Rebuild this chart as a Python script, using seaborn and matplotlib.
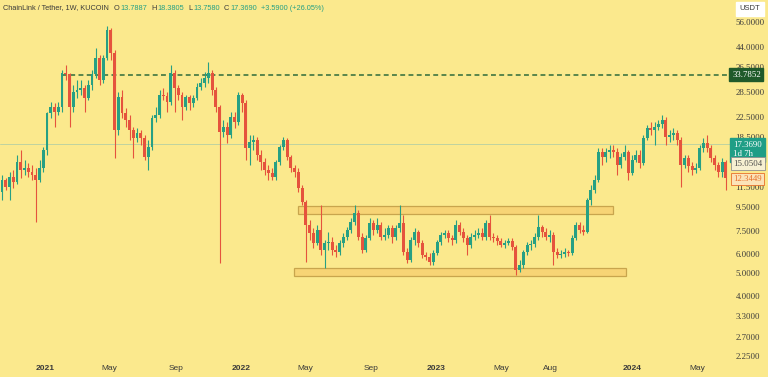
import matplotlib
matplotlib.use("Agg")
import numpy as np
import pandas as pd
import seaborn as sns
import matplotlib.pyplot as plt
import matplotlib.dates as mdates
from matplotlib.patches import Rectangle
from matplotlib.ticker import FixedLocator, NullLocator

# ---------------- data (weekly LINK/USDT candles) ----------------
start_date = "2020-10-12"

opens = [
    10.9, 12.3, 11.5, 12.6, 12.0, 14.6, 13.5, 13.8, 13.2, 12.9,
    12.3, 13.8, 16.4, 23.3, 24.7, 23.6, 24.7, 34.3, 34.0, 24.7,
    28.6, 29.1, 29.7, 27.0, 30.6, 34.0, 39.6, 32.1, 39.6, 51.9,
    41.6, 19.8, 27.2, 23.3, 21.8, 19.8, 18.4, 19.3, 18.4, 15.3,
    16.8, 22.2, 22.9, 27.8, 27.5, 25.9, 34.3, 29.7, 27.8, 24.7,
    27.2, 25.7, 27.0, 30.0, 31.1, 32.7, 34.3, 29.1, 24.7, 19.4,
    20.4, 18.9, 22.5, 21.4, 27.8, 25.7, 16.7, 17.7, 18.0, 15.6,
    14.6, 13.5, 13.1, 12.6, 14.6, 16.8, 18.0, 15.3, 13.8, 13.2,
    11.35, 9.92, 7.95, 7.36, 6.69, 7.58, 6.26, 6.69, 6.75, 6.26,
    6.13, 6.69, 7.09, 7.58, 8.19, 8.91, 7.09, 6.26, 7.02, 8.10,
    7.58, 7.95, 7.09, 7.22, 7.72, 7.09, 7.72, 8.10, 6.13, 5.68,
    6.89, 7.44, 6.69, 5.96, 5.85, 5.57, 6.07, 6.75, 7.22, 7.36,
    7.02, 6.89, 7.95, 7.44, 7.02, 6.56, 7.09, 7.22, 7.36, 7.09,
    8.10, 7.09, 7.02, 6.82, 6.56, 6.69, 6.82, 6.44, 5.16, 5.41,
    6.13, 6.56, 6.62, 7.09, 7.80, 7.44, 7.09, 7.22, 6.13, 5.96,
    6.02, 6.13, 6.07, 7.02, 7.95, 7.58, 7.44, 10.1, 11.1, 12.3,
    16.0, 15.3, 16.0, 16.4, 16.0, 14.2, 15.3, 16.0, 13.1, 14.8,
    15.6, 14.4, 18.4, 20.2, 19.8, 20.4, 21.0, 21.8, 18.5, 18.9,
    19.3, 18.0, 14.2, 15.1, 14.0, 13.5, 13.8, 16.7, 17.5, 16.7,
    15.1, 14.2, 13.2, 14.6,
]

closes = [
    12.3, 11.5, 12.6, 12.0, 14.6, 13.5, 13.8, 13.2, 12.9, 12.3,
    13.8, 16.4, 23.3, 24.7, 23.6, 24.7, 34.3, 34.0, 24.7, 28.6,
    29.1, 29.7, 27.0, 30.6, 34.0, 39.6, 32.1, 39.6, 51.9, 41.6,
    19.8, 27.2, 23.3, 21.8, 19.8, 18.4, 19.3, 18.4, 15.3, 16.8,
    22.2, 22.9, 27.8, 27.5, 25.9, 34.3, 29.7, 27.8, 24.7, 27.2,
    25.7, 27.0, 30.0, 31.1, 32.7, 34.3, 29.1, 24.7, 19.4, 20.4,
    18.9, 22.5, 21.4, 27.8, 25.7, 16.7, 17.7, 18.0, 15.6, 14.6,
    13.5, 13.1, 12.6, 14.6, 16.8, 18.0, 15.3, 13.8, 13.2, 11.35,
    9.92, 7.95, 7.36, 6.69, 7.58, 6.26, 6.69, 6.75, 6.26, 6.13,
    6.69, 7.09, 7.58, 8.19, 8.91, 7.09, 6.26, 7.02, 8.10, 7.58,
    7.95, 7.09, 7.22, 7.72, 7.09, 7.72, 8.10, 6.13, 5.68, 6.89,
    7.44, 6.69, 5.96, 5.85, 5.57, 6.07, 6.75, 7.22, 7.36, 7.02,
    6.89, 7.95, 7.44, 7.02, 6.56, 7.09, 7.22, 7.36, 7.09, 8.10,
    7.09, 7.02, 6.82, 6.56, 6.69, 6.82, 6.44, 5.16, 5.41, 6.13,
    6.56, 6.62, 7.09, 7.80, 7.44, 7.09, 7.22, 6.13, 5.96, 6.02,
    6.13, 6.07, 7.02, 7.95, 7.58, 7.44, 10.1, 11.1, 12.3, 16.0,
    15.3, 16.0, 16.4, 16.0, 14.2, 15.3, 16.0, 13.1, 14.8, 15.6,
    14.4, 18.4, 20.2, 19.8, 20.4, 21.0, 21.8, 18.5, 18.9, 19.3,
    18.0, 14.2, 15.1, 14.0, 13.5, 13.8, 16.7, 17.5, 16.7, 15.1,
    14.2, 13.2, 14.6, 12.5,
]

highs = [
    12.9, 12.5, 13.2, 13.5, 15.6, 16.4, 14.8, 14.4, 14.2, 13.8,
    14.8, 16.8, 23.6, 25.9, 25.7, 25.9, 35.3, 37.0, 34.3, 30.6,
    32.1, 32.1, 30.6, 32.1, 35.3, 43.6, 40.8, 40.8, 53.9, 52.9,
    42.8, 28.6, 29.1, 24.5, 22.9, 20.4, 20.2, 19.8, 18.9, 18.0,
    22.9, 24.7, 29.1, 29.7, 28.6, 37.0, 35.3, 30.6, 28.6, 27.8,
    27.8, 27.8, 31.1, 32.7, 34.6, 38.1, 35.3, 30.0, 25.2, 21.8,
    21.4, 23.6, 23.6, 28.6, 28.3, 26.5, 18.9, 18.9, 18.5, 16.4,
    15.1, 14.2, 13.8, 14.8, 17.1, 18.5, 18.4, 15.6, 14.2, 13.8,
    11.7, 10.1, 8.35, 7.72, 7.95, 9.63, 6.89, 7.44, 7.09, 6.56,
    6.89, 7.36, 7.80, 8.51, 9.63, 9.15, 7.36, 7.22, 8.51, 8.35,
    8.51, 8.19, 7.72, 7.95, 7.95, 7.95, 9.63, 8.75, 6.37, 7.09,
    7.72, 7.58, 6.89, 6.13, 6.07, 6.26, 6.89, 7.44, 7.58, 7.58,
    7.22, 8.35, 8.19, 7.72, 7.22, 7.36, 7.58, 7.72, 7.72, 8.35,
    8.75, 7.36, 7.22, 7.02, 6.89, 7.02, 7.02, 6.56, 5.68, 6.26,
    6.75, 6.89, 7.36, 8.75, 7.95, 7.72, 7.58, 7.44, 6.37, 6.26,
    6.37, 6.26, 7.22, 8.19, 8.19, 7.95, 10.3, 11.7, 12.9, 16.7,
    16.7, 16.7, 17.1, 17.1, 16.7, 15.9, 17.1, 16.4, 15.6, 16.4,
    16.4, 18.9, 20.8, 21.4, 21.4, 21.8, 22.9, 22.5, 19.8, 20.2,
    19.8, 18.5, 15.6, 15.6, 14.6, 14.4, 17.1, 18.4, 18.9, 17.1,
    15.6, 14.6, 15.1, 14.8,
]

lows = [
    10.1, 11.1, 10.1, 11.35, 11.8, 12.5, 12.9, 12.6, 12.3, 8.19,
    12.0, 13.2, 15.6, 22.2, 20.4, 22.9, 23.6, 32.1, 20.4, 23.6,
    27.0, 27.8, 23.6, 26.5, 29.1, 32.7, 30.6, 31.1, 38.9, 38.9,
    15.1, 18.9, 22.2, 20.4, 18.0, 15.1, 17.7, 17.1, 14.8, 13.5,
    16.4, 21.4, 22.2, 26.5, 23.6, 25.2, 23.6, 26.5, 21.8, 24.0,
    24.0, 24.7, 26.5, 29.1, 30.0, 31.1, 27.8, 23.6, 5.52, 18.5,
    17.5, 18.4, 20.2, 20.8, 23.6, 14.8, 14.2, 16.4, 14.8, 13.5,
    12.9, 12.3, 12.3, 12.3, 14.2, 16.4, 14.8, 13.2, 12.6, 10.9,
    9.63, 5.57, 6.89, 6.37, 6.56, 5.96, 5.26, 6.26, 5.96, 5.85,
    5.96, 6.44, 6.89, 7.36, 7.95, 6.89, 6.07, 6.13, 6.89, 7.22,
    7.36, 6.89, 6.89, 7.02, 6.69, 6.89, 7.44, 5.96, 5.52, 5.57,
    6.56, 6.44, 5.80, 5.68, 5.41, 5.41, 5.96, 6.56, 7.02, 6.75,
    6.56, 6.69, 7.22, 6.75, 5.96, 6.37, 6.89, 7.02, 6.89, 6.89,
    6.89, 6.75, 6.56, 6.44, 6.37, 6.56, 6.26, 4.92, 5.06, 5.26,
    5.96, 6.26, 6.44, 6.89, 7.09, 6.89, 6.75, 5.41, 5.80, 5.80,
    5.85, 5.90, 5.96, 6.89, 7.36, 7.22, 7.36, 9.63, 10.8, 12.0,
    14.2, 14.6, 15.1, 15.3, 12.9, 13.8, 14.8, 12.3, 12.9, 14.6,
    13.8, 14.2, 18.0, 18.9, 17.1, 19.8, 20.2, 17.1, 17.7, 18.0,
    17.1, 11.5, 13.8, 13.2, 12.9, 13.1, 13.5, 16.0, 16.0, 14.6,
    13.5, 12.6, 12.6, 11.1,
]

price_ticks = [56.0, 44.0, 36.5, 28.5, 22.5, 18.5, 11.5, 9.5, 7.5, 6.0, 5.0, 4.0, 3.3, 2.7, 2.25]
x_tick_dates = ["2021-01-01", "2021-05-01", "2021-09-01", "2022-01-01", "2022-05-01",
                "2022-09-01", "2023-01-01", "2023-05-01", "2023-08-01", "2024-01-01", "2024-05-01"]
x_tick_labels = ["2021", "May", "Sep", "2022", "May", "Sep", "2023", "May", "Aug", "2024", "May"]

resistance_level = 33.7852
last_price = 17.3690
prev_close_label = 15.0504
low_label = 12.3449
upper_zone = (8.84, 9.55)
upper_zone_dates = ("2022-04-17", "2023-11-26")
lower_zone = (4.87, 5.26)
lower_zone_dates = ("2022-04-10", "2023-12-20")

header_name = "ChainLink / Tether, 1W, KUCOIN"
header_ohlc = [("O", "13.7887"), ("H", "18.3805"), ("L", "13.7580"), ("C", "17.3690")]
header_change = "+3.5900 (+26.05%)"

# ---------------- styling ----------------
BG = "#FBE98D"
UP = "#26A084"
DOWN = "#E5533D"
TXT = "#3a3a3a"

sns.set_theme(style="white", rc={"axes.facecolor": BG, "figure.facecolor": BG})
plt.rcParams["font.family"] = ["Liberation Sans", "DejaVu Sans"]

df = pd.DataFrame({
    "date": pd.date_range(start_date, periods=len(closes), freq="7D"),
    "open": opens, "high": highs, "low": lows, "close": closes,
})
df["x"] = mdates.date2num(df["date"])
df["up"] = df["close"] >= df["open"]
df["color"] = np.where(df["up"], UP, DOWN)
df["body_lo"] = df[["open", "close"]].min(axis=1)
df["body_h"] = (df["open"] - df["close"]).abs()

W, H = 768, 377
fig = plt.figure(figsize=(W / 100, H / 100), dpi=100)
ax = fig.add_axes([0, (H - 362) / H, 730 / W, 362 / H])
ax.set_facecolor(BG)

# log price axis
ax.set_yscale("log")
ax.set_ylim(56 * np.exp(-(362 - 22) / 104), 56 * np.exp(22 / 104))
px_per_day = 3.751 / 7
x0 = df["x"].iloc[0]
ax.set_xlim(x0 - 2 / px_per_day, x0 + 728 / px_per_day)

# zones
for (lo, hi), (d1, d2) in [(upper_zone, upper_zone_dates), (lower_zone, lower_zone_dates)]:
    a, b = mdates.date2num(pd.Timestamp(d1)), mdates.date2num(pd.Timestamp(d2))
    ax.add_patch(Rectangle((a, lo), b - a, hi - lo, facecolor="#F6CE6E", alpha=0.75,
                           edgecolor="#B8933C", linewidth=0.9, zorder=1))

# current price line & resistance
ax.axhline(last_price, color="#BFD3A0", linewidth=0.7, zorder=1.5)
ax.hlines(resistance_level, df["x"].iloc[16], ax.get_xlim()[1], colors="#2E6B3A",
          linewidth=1.1, linestyles=(0, (3.2, 2.2)), zorder=2)

# candles
ax.vlines(df["x"], df["low"], df["high"], colors=df["color"], linewidth=0.8, zorder=3)
ax.bar(df["x"], df["body_h"], bottom=df["body_lo"], width=5.4, color=df["color"],
       linewidth=0, zorder=4)

sns.despine(ax=ax, left=True, right=True, top=True, bottom=True)

# right price axis
ax.yaxis.tick_right()
ax.yaxis.set_major_locator(FixedLocator(price_ticks))
ax.yaxis.set_minor_locator(NullLocator())
ax.set_yticklabels([f"{v:.4f}" for v in price_ticks])
ax.tick_params(axis="y", length=0, pad=4, labelsize=6.3, labelcolor=TXT)
for lab in ax.get_yticklabels():
    lab.set_family(["Liberation Serif", "DejaVu Serif"])

# bottom time axis
ax.xaxis.set_major_locator(FixedLocator(mdates.date2num(pd.to_datetime(x_tick_dates))))
ax.xaxis.set_minor_locator(NullLocator())
ax.set_xticklabels(x_tick_labels)
ax.tick_params(axis="x", length=0, pad=2.5, labelsize=6, labelcolor=TXT)
for lab in ax.get_xticklabels():
    if lab.get_text().isdigit():
        lab.set_fontweight("bold")
ax.grid(False)

# price tags on the right
ax.annotate(f"{resistance_level:.4f}", xy=(1.0, resistance_level), xycoords=("axes fraction", "data"),
            xytext=(1.5, 0), textcoords="offset points", va="center", ha="left",
            fontsize=6.3, color="white", family=["Liberation Serif", "DejaVu Serif"],
            bbox=dict(boxstyle="square,pad=0.3", fc="#1F5A2A", ec="#1F5A2A"),
            annotation_clip=False, zorder=10)
ax.annotate(f"{last_price:.4f}\n1d 7h", xy=(1.0, last_price), xycoords=("axes fraction", "data"),
            xytext=(2.5, 2.0), textcoords="offset points", va="top", ha="left",
            fontsize=6.3, color="white", linespacing=1.25, family=["Liberation Serif", "DejaVu Serif"],
            bbox=dict(boxstyle="square,pad=0.35", fc="#1F9E86", ec="#1F9E86"),
            annotation_clip=False, zorder=10)
ax.annotate(f"{prev_close_label:.4f}", xy=(1.0, prev_close_label), xycoords=("axes fraction", "data"),
            xytext=(2.5, -3.5), textcoords="offset points", va="center", ha="left",
            fontsize=6.3, color="#4a4a4a", family=["Liberation Serif", "DejaVu Serif"],
            bbox=dict(boxstyle="square,pad=0.25", fc="#F7F0D2", ec="#8F8F8F", lw=0.6),
            annotation_clip=False, zorder=10)
ax.annotate(f"{low_label:.4f}", xy=(1.0, low_label), xycoords=("axes fraction", "data"),
            xytext=(2.5, 0), textcoords="offset points", va="center", ha="left",
            fontsize=6.3, color="#E8702A", family=["Liberation Serif", "DejaVu Serif"],
            bbox=dict(boxstyle="square,pad=0.25", fc="#FBE3B8", ec="#E8702A", lw=0.6),
            annotation_clip=False, zorder=10)

# USDT box
fig.text(750 / W, 1 - 9 / H, "USDT", ha="center", va="center", fontsize=5.5, color=TXT,
         bbox=dict(boxstyle="square,pad=0.5", fc="white", ec="white"))

# header, laid out piece by piece so nothing overlaps
renderer = fig.canvas.get_renderer()
hy = 1 - 8 / H
pieces = [(header_name, TXT, 5)]
for letter, val in header_ohlc:
    pieces.append((letter, TXT, 1))
    pieces.append((val, UP, 4))
pieces.append((header_change, UP, 0))
cur_px = 3
for txt, col, gap in pieces:
    t = fig.text(cur_px / W, hy, txt, ha="left", va="center", fontsize=5.3, color=col)
    cur_px += t.get_window_extent(renderer).width + gap

fig.savefig("out.png", dpi=100, facecolor=BG)
